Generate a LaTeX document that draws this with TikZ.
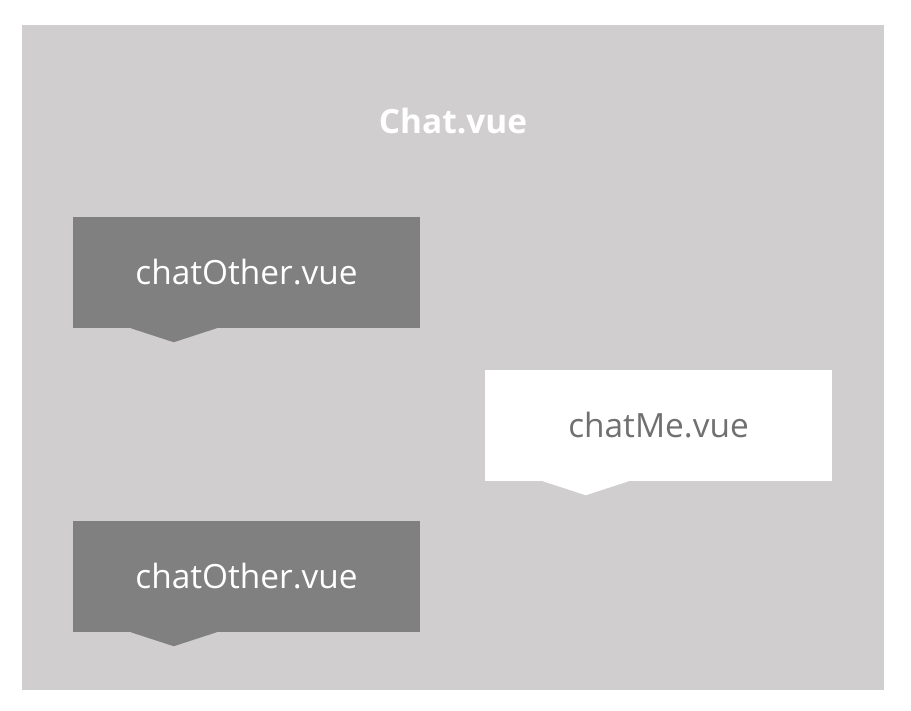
\documentclass[tikz,border=0pt]{standalone}
\usepackage{fontspec}
\setmainfont{Open Sans}
\usetikzlibrary{positioning,calc}

\definecolor{frameGray}{RGB}{208,206,207}
\definecolor{otherGray}{RGB}{128,128,128}
\definecolor{meText}{RGB}{112,112,114}

\begin{document}
\begin{tikzpicture}[
        x=0.03cm, y=-0.03cm,
        every node/.style={font=\fontsize{28.5}{32}\selectfont},
        bubble/.style={rectangle, inner sep=0pt, minimum width=10.41cm, minimum height=3.33cm},
        other/.style={bubble, fill=otherGray, text=white},
        me/.style={bubble, fill=white, text=meText},
        title/.style={font=\fontsize{28.5}{32}\selectfont\bfseries, text=white}
    ]
        \useasboundingbox (0,0) rectangle (911,711);
        \fill[frameGray] (22,25) rectangle (884,690);
        \node[title] (chat) at (453,121) {Chat.vue};
        \node[other] (other1) at (246.5,272.5) {chatOther.vue};
        \node[me] (me) at (658.5,425.5) {chatMe.vue};
        \node[other] (other2) at (246.5,576.5) {chatOther.vue};
        % little tails under the bubbles
        \fill[otherGray] ($(other1.south west)+(58,0)$) -- ($(other1.south west)+(101,14)$) -- ($(other1.south west)+(144,0)$) -- cycle;
        \fill[white] ($(me.south west)+(58,0)$) -- ($(me.south west)+(101,14)$) -- ($(me.south west)+(144,0)$) -- cycle;
        \fill[otherGray] ($(other2.south west)+(58,0)$) -- ($(other2.south west)+(101,14)$) -- ($(other2.south west)+(144,0)$) -- cycle;
    \end{tikzpicture}
\end{document}
